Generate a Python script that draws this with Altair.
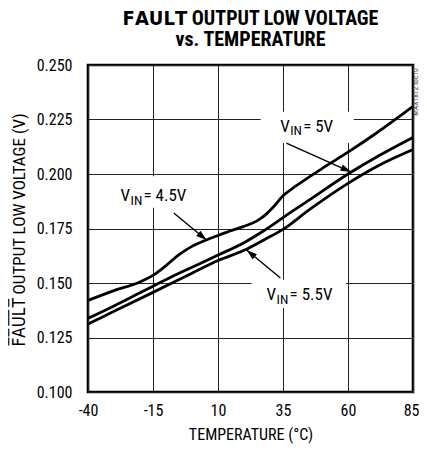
import math
import altair as alt
import pandas as pd

# ---------------- data ----------------
x_ticks = [-40, -15, 10, 35, 60, 85]
y_ticks = [0.100, 0.125, 0.150, 0.175, 0.200, 0.225, 0.250]

t_45 = [-40, -30, -20, -15, -10, -5, 0, 5, 10, 15, 20, 25, 28, 31, 35, 40, 50, 60, 70, 85]
v_45 = [0.1420, 0.1465, 0.1505, 0.1535, 0.1580, 0.1630, 0.1668, 0.1695, 0.1718, 0.1740,
        0.1760, 0.1785, 0.1810, 0.1845, 0.1900, 0.1945, 0.2025, 0.2100, 0.2180, 0.2310]

t_50 = [-40, -30, -20, -15, -5, 0, 10, 20, 27, 32, 35, 45, 60, 72, 85]
v_50 = [0.1338, 0.1395, 0.1455, 0.1485, 0.1545, 0.1572, 0.1628, 0.1685, 0.1735, 0.1775,
        0.1800, 0.1880, 0.2000, 0.2085, 0.2168]

t_55 = [-40, -30, -15, 0, 10, 20, 28, 35, 45, 60, 72, 85]
v_55 = [0.1312, 0.1370, 0.1457, 0.1545, 0.1603, 0.1650, 0.1700, 0.1746, 0.1835, 0.1957,
        0.2040, 0.2112]

# annotation labels: left/baseline anchor of the "V"
lab_t = [33.9, -27.5, 28.7]
lab_v = [0.2194, 0.1876, 0.1422]
lab_rest = ["= 5V", "= 4.5V", "= 5.5V"]

# white boxes behind labels
box_t1 = [26.4, -26.0, 22.9]
box_t2 = [62.2, 4.0, 59.2]
box_v1 = [0.2142, 0.1845, 0.1385]
box_v2 = [0.2285, 0.1990, 0.1515]

# arrows: start -> tip
arr_t1 = [36.3, -7.0, 34.0]
arr_v1 = [0.2142, 0.1821, 0.1523]
arr_t2 = [61.2, 5.6, 21.0]
arr_v2 = [0.2009, 0.1697, 0.1651]

# ---------------- layout constants ----------------
W, H = 325, 327
FONT = "Roboto Condensed"
FONT_OL = "Roboto Condensed, DejaVu Sans Condensed, DejaVu Sans"
OL = "\u0305"
FAULT = "".join(c + OL for c in "FAULT")

lines_df = pd.concat([
    pd.DataFrame({"T": t_45, "V": v_45, "s": "4.5"}),
    pd.DataFrame({"T": t_50, "V": v_50, "s": "5"}),
    pd.DataFrame({"T": t_55, "V": v_55, "s": "5.5"}),
])
labels_df = pd.DataFrame({"T": lab_t, "V": lab_v, "rest": lab_rest})
boxes_df = pd.DataFrame({"T": box_t1, "T2": box_t2, "V": box_v1, "V2": box_v2})

px_per_t = W / 125.0
px_per_v = H / 0.15
angles = []
for a, b, c, d in zip(arr_t1, arr_v1, arr_t2, arr_v2):
    dx = (c - a) * px_per_t
    dy = -(d - b) * px_per_v
    ang = math.degrees(math.atan2(dx, -dy)) % 360
    angles.append(ang)
arrows_df = pd.DataFrame({"T": arr_t1, "V": arr_v1, "T2": arr_t2, "V2": arr_v2, "ang": angles})
heads_df = pd.DataFrame({"T": arr_t2, "V": arr_v2, "ang": angles})

xs = alt.Scale(domain=[-40, 85], nice=False, zero=False)
ys = alt.Scale(domain=[0.1, 0.25], nice=False, zero=False)

x_enc = alt.X("T:Q", scale=xs, axis=alt.Axis(
    values=x_ticks, title="TEMPERATURE (°C)", format="d",
    labelExpr="replace(datum.label, '\u2212', '-')",
    labelAlign=alt.condition("datum.value == 85", alt.value("right"), alt.value("center")),
    labelOffset=alt.condition("datum.value == 85", alt.value(6), alt.value(0)),
    labelFontSize=16, labelFont=FONT, labelColor="#000", labelPadding=10,
    titleFont=FONT, titleFontSize=16, titleFontWeight="normal", titleColor="#000",
    titleX=W / 2, titleY=47.5, titleBaseline="alphabetic", titleAlign="center",
    grid=True, gridColor="#222", gridWidth=1, ticks=False, domain=False,
    labelFlush=False, labelOverlap=False))
y_enc = alt.Y("V:Q", scale=ys, axis=alt.Axis(
    values=y_ticks, title=FAULT + " OUTPUT LOW VOLTAGE (V)", format=".3f",
    labelFontSize=16, labelFont=FONT, labelColor="#000", labelPadding=16,
    titleFont=FONT_OL, titleFontSize=17, titleFontWeight="normal", titleColor="#000",
    titleX=-64, titleY=H / 2 + 1, titleAngle=270, titleBaseline="alphabetic", titleAlign="center",
    grid=True, gridColor="#222", gridWidth=1, ticks=False, domain=False,
    labelFlush=False, labelOverlap=False))

boxes = alt.Chart(boxes_df).mark_rect(fill="white").encode(
    x=x_enc, x2="T2:Q", y=y_enc, y2="V2:Q")

lines = alt.Chart(lines_df).mark_line(color="black", strokeWidth=2.8, interpolate="monotone").encode(
    x=x_enc, y=y_enc, detail="s:N")

shafts = alt.Chart(arrows_df).mark_rule(color="black", strokeWidth=1.4).encode(
    x=x_enc, x2="T2:Q", y=y_enc, y2="V2:Q")

heads = alt.Chart(heads_df).mark_point(
    shape="M0,0L0.32,1L-0.32,1Z", filled=True, color="black", size=450, opacity=1
).encode(x=x_enc, y=y_enc, angle=alt.Angle("ang:Q", scale=None))

txt_v = alt.Chart(labels_df).mark_text(font=FONT, fontSize=17, align="left", baseline="alphabetic", color="#000").encode(
    x=x_enc, y=y_enc, text=alt.value("V"))
txt_in = alt.Chart(labels_df).mark_text(font=FONT, fontSize=13.5, align="left", baseline="alphabetic", dx=10, dy=3.5, color="#000").encode(
    x=x_enc, y=y_enc, text=alt.value("IN"))
txt_rest = alt.Chart(labels_df).mark_text(font=FONT, fontSize=17, align="left", baseline="alphabetic", dx=23, color="#000").encode(
    x=x_enc, y=y_enc, text="rest:N")

mark_id = alt.Chart(pd.DataFrame({"a": [0]})).mark_text(
    font=FONT, fontSize=7.5, angle=270, align="center", baseline="middle", color="#444"
).encode(x=alt.value(W + 3), y=alt.value(27), text=alt.value("MAX1812 toc10"))

chart = alt.layer(boxes, lines, shafts, heads, txt_v, txt_in, txt_rest, mark_id).properties(
    width=W, height=H,
    autosize=alt.AutoSizeParams(type="none"),
    padding={"left": 80, "top": 57, "right": 6, "bottom": 52},
    title=alt.TitleParams(
        text=[FAULT + " OUTPUT LOW VOLTAGE", "vs. TEMPERATURE"],
        font=FONT_OL, fontSize=20, fontWeight="bold", color="#000",
        anchor="middle", offset=7, lineHeight=21),
).configure_view(stroke="black", strokeWidth=2.6)

chart.save("out.html", embed_options={"renderer": "svg", "actions": False})
